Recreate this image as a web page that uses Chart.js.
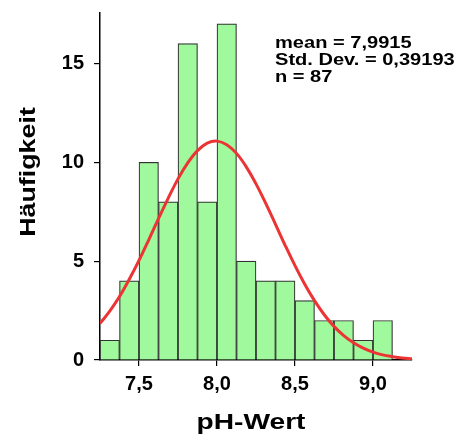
<!DOCTYPE html>
<html>
<head>
<meta charset="utf-8">
<script src="https://cdn.jsdelivr.net/npm/chart.js@4"></script>
<style>
html,body{margin:0;padding:0;background:#fff;}
#wrap{width:462px;height:436px;}
</style>
</head>
<body>
<div id="wrap"><canvas id="c" width="462" height="436"></canvas></div>
<script>
// Histogram bins (lower edges, width 0.125) and counts
const binEdges = [7.25, 7.375, 7.5, 7.625, 7.75, 7.875, 8.0, 8.125, 8.25, 8.375, 8.5, 8.625, 8.75, 8.875, 9.0];
const binWidth = 0.125;
const counts = [1, 4, 10, 8, 16, 8, 17, 5, 4, 4, 3, 2, 2, 1, 2];

// Normal curve
const curveX = [7.25, 7.3125, 7.375, 7.4375, 7.5, 7.5625, 7.625, 7.6875, 7.75, 7.8125, 7.875, 7.9375, 8.0, 8.0625, 8.125, 8.1875, 8.25, 8.3125, 8.375, 8.4375, 8.5, 8.5625, 8.625, 8.6875, 8.75, 8.8125, 8.875, 8.9375, 9.0, 9.0625, 9.125, 9.1875, 9.25];
const curveY = [1.85, 2.47, 3.21, 4.08, 5.04, 6.08, 7.15, 8.19, 9.16, 9.97, 10.59, 10.97, 11.07, 10.89, 10.45, 9.77, 8.91, 7.92, 6.86, 5.79, 4.77, 3.83, 3.0, 2.29, 1.7, 1.23, 0.87, 0.6, 0.4, 0.26, 0.17, 0.1, 0.06];

// Axis ticks
const xTickValues = [7.5, 8.0, 8.5, 9.0];
const xTickLabels = ["7,5", "8,0", "8,5", "9,0"];
const yTickValues = [0, 5, 10, 15];
const yTickLabels = ["0", "5", "10", "15"];

// Texts
const xTitle = "pH-Wert";
const yTitle = "Häufigkeit";
const statsLines = ["mean = 7,9915", "Std. Dev. = 0,39193", "n = 87"];

const barData = binEdges.map((e, i) => ({ x: e + binWidth / 2, y: counts[i] }));
const lineData = curveX.map((x, i) => ({ x: x, y: curveY[i] }));

const FONT = "'Liberation Sans', Arial, sans-serif";

const textPlugin = {
  id: 'textPlugin',
  afterDraw(chart) {
    const ctx = chart.ctx;
    ctx.save();
    ctx.fillStyle = '#000';
    // stats text
    ctx.font = "bold 17px " + FONT;
    ctx.textBaseline = 'alphabetic';
    ctx.textAlign = 'left';
    statsLines.forEach((t, i) => {
      ctx.save();
      ctx.translate(275, 47.5 + i * 17.3);
      ctx.scale(1.18, 1);
      ctx.fillText(t, 0, 0);
      ctx.restore();
    });
    // x title
    ctx.font = "bold 22px " + FONT;
    ctx.textAlign = 'center';
    ctx.save();
    ctx.translate(251, 428.5);
    ctx.scale(1.28, 1);
    ctx.fillText(xTitle, 0, 0);
    ctx.restore();
    // y title
    ctx.save();
    ctx.translate(35, 172);
    ctx.rotate(-Math.PI / 2);
    ctx.scale(1.22, 1);
    ctx.font = "bold 22px " + FONT;
    ctx.fillText(yTitle, 0, 0);
    ctx.restore();
    ctx.restore();
  }
};

new Chart(document.getElementById('c'), {
  type: 'bar',
  data: {
    datasets: [
      {
        type: 'line',
        data: lineData,
        borderColor: '#ec3434',
        borderWidth: 3,
        pointRadius: 0,
        tension: 0.4,
        fill: false,
        order: 0
      },
      {
        type: 'bar',
        data: barData,
        backgroundColor: '#a0f99c',
        borderColor: '#333',
        borderWidth: 1.2,
        barPercentage: 1,
        categoryPercentage: 1,
        order: 1
      }
    ]
  },
  options: {
    responsive: false,
    animation: false,
    layout: { padding: { top: 13, right: 50, left: 0, bottom: 0 } },
    plugins: { legend: { display: false }, tooltip: { enabled: false } },
    scales: {
      x: {
        type: 'linear',
        offset: false,
        min: 7.25,
        max: 9.25,
        afterFit(s) { s.height = 76; s.paddingLeft = 0; s.paddingRight = 0; },
        afterBuildTicks(s) { s.ticks = xTickValues.map(v => ({ value: v })); },
        grid: { offset: false, drawOnChartArea: false, drawTicks: true, tickLength: 6, color: '#000', lineWidth: 1.2 },
        border: { display: true, color: '#000', width: 1.5 },
        ticks: {
          color: '#000',
          padding: 6,
          font: { family: FONT, size: 20, weight: 'bold' },
          callback: (v) => xTickLabels[xTickValues.indexOf(v)] ?? ''
        }
      },
      y: {
        type: 'linear',
        min: 0,
        max: 17.55,
        afterFit(s) { s.width = 100; s.paddingTop = 0; s.paddingBottom = 0; },
        afterBuildTicks(s) { s.ticks = yTickValues.map(v => ({ value: v })); },
        grid: { drawOnChartArea: false, drawTicks: true, tickLength: 6, color: '#000', lineWidth: 1.2 },
        border: { display: true, color: '#000', width: 1.5 },
        ticks: {
          color: '#000',
          padding: 10,
          font: { family: FONT, size: 20, weight: 'bold' },
          callback: (v) => yTickLabels[yTickValues.indexOf(v)] ?? ''
        }
      }
    }
  },
  plugins: [textPlugin]
});
</script>
</body>
</html>
